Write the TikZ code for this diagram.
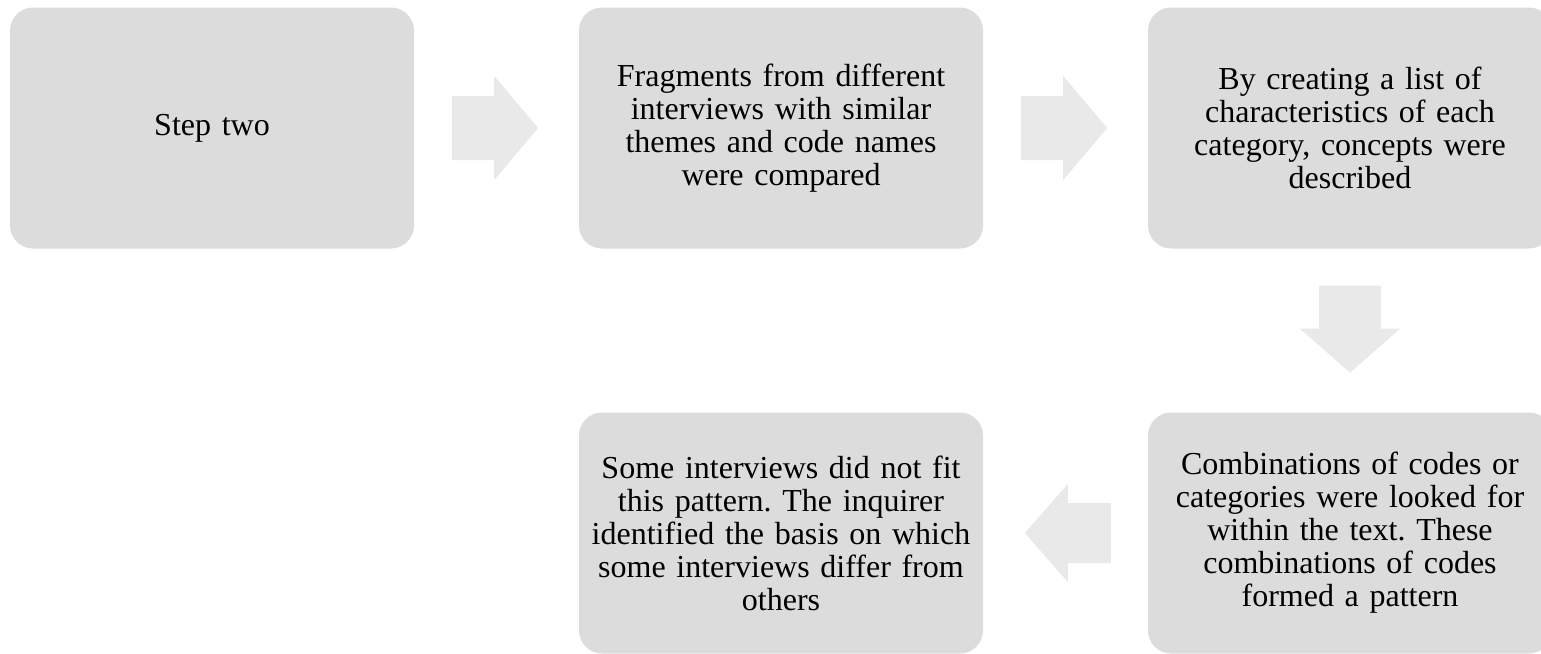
\documentclass[tikz,border=0pt]{standalone}
\usepackage{fontspec}
\setmainfont{Liberation Serif}
\usetikzlibrary{calc}
\definecolor{boxgray}{RGB}{220,220,220}
\definecolor{arrowgray}{RGB}{233,233,233}
\begin{document}
\frenchspacing
\begin{tikzpicture}[x=1pt,y=-1pt,
  stepbox/.style={fill=boxgray, rounded corners=23pt, minimum width=404pt,
    minimum height=241pt, text width=385pt, align=center, inner sep=0pt,
    font=\fontsize{32}{33}\selectfont},
  blockarrow/.style={fill=arrowgray}]
\useasboundingbox (0,0) rectangle (1541,653);
\clip (0,0) rectangle (1541,653);

% process steps
\node[stepbox] (s1) at (212,128) {Step two};
\node[stepbox] (s2) at (781,128) {Fragments from different\\interviews with similar\\themes and code names\\were compared};
\node[stepbox] (s3) at (1350,128) {By creating a list of\\characteristics of each\\category, concepts were\\described};
\node[stepbox] (s4) at (1350,533) {Combinations of codes or\\categories were looked for\\within the text. These\\combinations of codes\\formed a pattern};
\node[stepbox] (s5) at (781,533) {Some interviews did not fit\\this pattern. The inquirer\\identified the basis on which\\some interviews differ from\\others};

% block arrows between the steps
\fill[blockarrow] ($(s1.east)+(38,-32)$) -- ++(42,0) -- ++(0,-20) -- ++(44,52) -- ++(-44,52) -- ++(0,-20) -- ++(-42,0) -- cycle;
\fill[blockarrow] ($(s2.east)+(38,-32)$) -- ++(42,0) -- ++(0,-20) -- ++(44,52) -- ++(-44,52) -- ++(0,-20) -- ++(-42,0) -- cycle;
\fill[blockarrow] ($(s3.south)+(-31,37)$) -- ++(0,43) -- ++(-19,0) -- ++(50,44) -- ++(50,-44) -- ++(-19,0) -- ++(0,-43) -- cycle;
\fill[blockarrow] ($(s4.west)+(-37,-30)$) -- ++(-43,0) -- ++(0,-19) -- ++(-43,49) -- ++(43,49) -- ++(0,-19) -- ++(43,0) -- cycle;
\end{tikzpicture}
\end{document}
